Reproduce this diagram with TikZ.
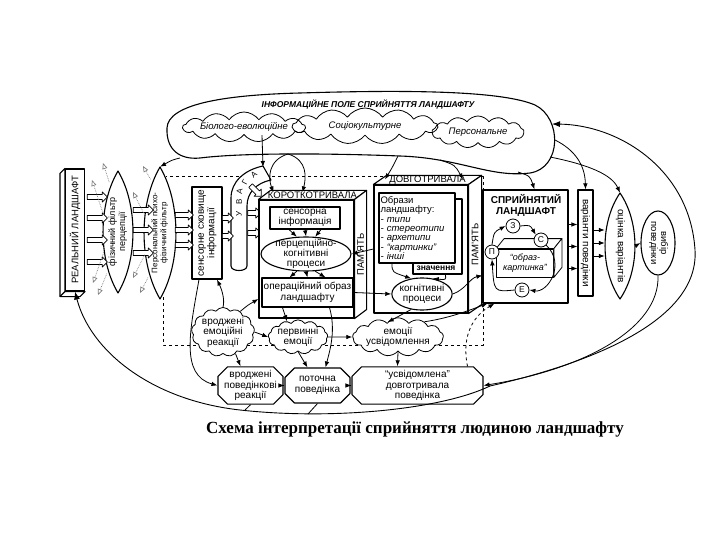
\documentclass[tikz,border=0pt]{standalone}
\usepackage{graphicx}
\usepackage{fontspec}
\setmainfont{Liberation Sans}
\newfontfamily\titlefont{Liberation Serif}
\usetikzlibrary{positioning, shapes.geometric, shapes.symbols, shapes.misc, shapes.arrows, arrows.meta, calc}

\newcommand{\vtxt}[1]{\rotatebox{90}{\begin{tabular}{@{}c@{}}#1\end{tabular}}}
\newcommand{\vtxtdown}[1]{\rotatebox{-90}{\begin{tabular}{@{}c@{}}#1\end{tabular}}}
\newcommand{\lenspath}[4]{\draw[boxline, fill=white] (#1,#2-#4) .. controls ({#1+#3*1.33},{#2-#4*0.45}) and ({#1+#3*1.33},{#2+#4*0.45}) .. (#1,#2+#4) .. controls ({#1-#3*1.33},{#2+#4*0.45}) and ({#1-#3*1.33},{#2-#4*0.45}) .. (#1,#2-#4) -- cycle;}

\tikzset{
  boxline/.style={line width=1.1pt},
  box/.style={draw, boxline, fill=white, align=center, inner sep=1pt},
  arr/.style={-{Latex[length=6pt,width=4.5pt]}, line width=0.8pt},
  fat/.style={single arrow, draw, fill=white, line width=0.7pt, minimum height=20pt, inner sep=2.2pt, single arrow head extend=2.5pt},
  ray/.style={densely dotted, gray, line width=0.7pt, -{Triangle[open,length=6pt,width=5pt]}},
  puff/.style={cloud, cloud puffs=13, cloud puff arc=110, cloud ignores aspect, draw, line width=0.8pt, align=center, inner sep=0pt},
  beh/.style={chamfered rectangle, chamfered rectangle xsep=6pt, draw, boxline, fill=white, align=center, inner sep=0pt, minimum height=35pt},
  circ/.style={circle, draw, line width=0.8pt, fill=white, inner sep=0pt, minimum size=14pt, font=\fontsize{8.5}{8.5}\selectfont},
  lensarea/.style={ellipse, inner sep=0pt},
  oval/.style={ellipse, draw, boxline, fill=white, align=center},
  memlabel/.style={font=\fontsize{9.5}{9.5}\selectfont, inner sep=0pt},
}

\begin{document}
\begin{tikzpicture}[x=1pt, y=-1pt, font=\fontsize{10}{10.5}\selectfont, line join=round]
\fill[white] (0,0) rectangle (720,540);
\useasboundingbox (0,0) rectangle (720,540);

% information field
\draw[boxline] (167,128) .. controls (168,105) and (220,95) .. (300,93) .. controls (400,90) and (500,90) .. (535,105) .. controls (562,118) and (562,168) .. (530,173) .. controls (490,178) and (460,158) .. (400,156) .. controls (320,153) and (240,153) .. (200,158) .. controls (180,160) and (166,150) .. (167,128) -- cycle;
\node[font=\fontsize{8.5}{9}\selectfont\bfseries\itshape] (fieldT) at (368,104) {ІНФОРМАЦІЙНЕ ПОЛЕ СПРИЙНЯТТЯ ЛАНДШАФТУ};
\node[puff, minimum width=114pt, minimum height=30pt, font=\fontsize{9.5}{10}\selectfont\itshape] (bio) at (244,127) {Біолого-еволюційне};
\node[puff, minimum width=145pt, minimum height=36pt, font=\fontsize{9.5}{10}\selectfont\itshape] (soc) at (365,126) {Соціокультурне};
\node[puff, minimum width=92pt, minimum height=32pt, font=\fontsize{9.5}{10}\selectfont\itshape] (persn) at (478,132) {Персональне};
\coordinate (fL) at (180,158);
\coordinate (fS) at (288,154);
\coordinate (fL1) at (398,156);
\coordinate (fL2) at (440,160);
\coordinate (fP) at (518,172);
\coordinate (fE1) at (552,124);
\coordinate (fE2) at (555,140);
\coordinate (fE3) at (550,157);

% dashed frame
\draw[dashed, line width=1pt] (163,297) -- (163,345) -- (483,345) -- (483,177) -- (166,177);

% real landscape
\node[box, minimum width=19pt, minimum height=122pt, font=\fontsize{9.5}{10}\selectfont] (land) at (75,230) {\rotatebox{90}{РЕАЛЬНИЙ ЛАНДШАФТ}};
\draw[boxline, fill=white] (land.north west) -- ++(-5,5) -- ($(land.south west)+(-5,5)$) -- ($(land.south east)+(-5,5)$) -- (land.south east) -- (land.south west) -- cycle;
\draw[boxline] (land.south west) -- ++(-5,5);

% filters
\lenspath{118}{232}{15}{61}
\node[lensarea, minimum width=30pt, minimum height=122pt, font=\fontsize{9}{10}\selectfont] (phys) at (118,232) {\vtxt{фізичний фільтр\\перцепції}};
\lenspath{160}{233}{16}{66}
\node[lensarea, minimum width=32pt, minimum height=132pt, font=\fontsize{8}{9}\selectfont] (pers) at (160,233) {\vtxt{Персональний психо-\\фізичний фільтр}};

% sensory store
\node[box, minimum width=30pt, minimum height=92pt] (store) at (207,233) {\vtxt{сенсорне сховище\\інформації}};

% attention band
\draw[boxline, fill=white] (231,266) -- (231,198) .. controls (231,182) and (244,170) .. (263,166) -- (271,180) .. controls (256,183) and (247,193) .. (247,206) -- (247,266) .. controls (247,272) and (231,272) .. (231,266) -- cycle;
\foreach \ch/\x/\y/\r [count=\i] in {У/239/214/90, В/239/202/90, А/239.5/191/82, Г/245/182/62, А/254/175/40}
  \node[rotate=\r, font=\fontsize{8}{8}\selectfont, inner sep=0pt] (u\i) at (\x,\y) {\ch};
\coordinate (uvtop) at (263,167);

% hollow arrows
\foreach \y [count=\i] in {197,218,240,262}
  \node[fat] (fa\i) at (96,\y) {};
\foreach \y [count=\i] in {210,230,253}
  \node[fat] (fb\i) at (142,\y) {};
\foreach \y [count=\i] in {215,230,245}
  \node[fat, minimum height=18pt] (fc\i) at (183,\y) {};
\foreach \y [count=\i] in {218,236}
  \node[fat, minimum height=11pt] (fd\i) at (226.5,\y) {};
\foreach \y [count=\i] in {213,233}
  \node[fat, minimum height=13pt] (fe\i) at (253,\y) {};
\node[fat, minimum height=15pt, rotate=-45] (fe3) at (255,190) {};

% filtered-out rays
\foreach \a/\x/\y [count=\i] in {100/103/163, 130/92/180, 235/93/283, 255/98/295}
  {\coordinate (rp\i) at (\x,\y); \draw[ray] (phys.\a) -- (rp\i);}
\foreach \a/\x/\y [count=\i] in {100/143/166, 130/133/192, 235/133/278, 255/140/293}
  {\coordinate (rq\i) at (\x,\y); \draw[ray] (pers.\a) -- (rq\i);}

% short-term memory
\node[draw, boxline, fill=white, minimum width=95pt, minimum height=118pt] (stm) at (306.5,259) {};
\draw[boxline, fill=white] (stm.north west) -- ++(12,-9) -- ($(stm.north east)+(12,-9)$) -- (stm.north east) -- cycle;
\draw[boxline, fill=white] (stm.north east) -- ++(12,-9) -- ($(stm.south east)+(12,-9)$) -- (stm.south east) -- cycle;
\node[memlabel] (stmT) at ($(stm.north)+(6,-4.5)$) {КОРОТКОТРИВАЛА};
\node[memlabel] (stmS) at ($(stm.east)+(6,-4.5)$) {\rotatebox{90}{ПАМ'ЯТЬ}};
\node[box, minimum width=70pt, minimum height=22pt, font=\fontsize{10}{10}\selectfont] (sens) at (305,218) {сенсорна\\інформація};
\node[oval, minimum width=90pt, minimum height=34pt, inner xsep=-2pt, inner ysep=-7pt, font=\fontsize{10}{10}\selectfont] (pcog) at (306,254) {перцепційно-\\когнітивні\\процеси};
\node[box, minimum width=91pt, minimum height=29pt, font=\fontsize{10}{11}\selectfont] (op) at (307.5,292.5) {операційний образ\\ландшафту};
\foreach \dx/\a in {-16/118, 0/90, 16/62}
  \draw[arr] ([xshift=\dx pt]sens.south) -- (pcog.\a);
\foreach \dx/\a in {-18/242, 0/270, 18/298}
  \draw[arr] (pcog.\a) -- ([xshift=\dx pt]op.north);

% long-term memory
\node[draw, boxline, fill=white, minimum width=94pt, minimum height=128pt] (ltm) at (421,249) {};
\draw[boxline, fill=white] (ltm.north west) -- ++(13,-9) -- ($(ltm.north east)+(13,-9)$) -- (ltm.north east) -- cycle;
\draw[boxline, fill=white] (ltm.north east) -- ++(13,-9) -- ($(ltm.south east)+(13,-9)$) -- (ltm.south east) -- cycle;
\node[memlabel] (ltmT) at ($(ltm.north)+(6.5,-4.5)$) {ДОВГОТРИВАЛА};
\node[memlabel] (ltmS) at ($(ltm.east)+(6.5,-4.5)$) {\rotatebox{90}{ПАМ'ЯТЬ}};
\node[draw, boxline, fill=white, minimum width=49pt, minimum height=75pt] (meaning) at (437.5,236.5) {};
\node[font=\fontsize{8.5}{9}\selectfont\bfseries, inner sep=0pt] (meanT) at (436,268.5) {значення};
\node[box, align=left, minimum width=76pt, minimum height=70pt, text width=73pt, font=\fontsize{9.5}{9.4}\selectfont] (images) at (417,228) {Образи\\ландшафту:\\\textit{- типи}\\\textit{- стереотипи}\\\textit{- архетипи}\\\textit{- ``картинки''}\\\textit{- інші}};
\node[oval, minimum width=60pt, minimum height=32pt, inner xsep=-1pt, inner ysep=-3pt] (cog) at (422,294) {когнітивні\\процеси};
\draw[arr] ([xshift=-25pt]images.south) .. controls (392,272) .. (cog.125);
\draw[arr] ([xshift=8pt]meaning.south) .. controls (446,280) .. (cog.55);
\draw[arr] (op.east) -- (cog.west);
\draw[arr] (ltm.west) -- (pcog.east);

% perceived landscape
\node[draw, boxline, fill=white, minimum width=85pt, minimum height=113pt] (seen) at (525.5,246.5) {};
\node[font=\fontsize{10}{11}\selectfont\bfseries, align=center] (seenT) at (526,205) {СПРИЙНЯТИЙ\\ЛАНДШАФТ};
\node[draw, line width=0.8pt, fill=white, minimum width=57pt, minimum height=28pt, align=center, font=\fontsize{9}{10}\selectfont\itshape] (img) at (525,263) {``образ-\\картинка''};
\draw[line width=0.8pt, fill=white] (img.north west) -- ++(8,-10) -- ($(img.north east)+(8,-10)$) -- (img.north east) -- cycle;
\draw[line width=0.8pt, fill=white] (img.north east) -- ++(8,-10) -- ($(img.south east)+(8,-10)$) -- (img.south east) -- cycle;
\node[circ] (cz) at (513,226) {З};
\node[circ] (cs) at (541,240) {С};
\node[circ] (cp) at (492,252) {П};
\node[circ] (ce) at (522,290) {Е};
\draw[arr] (cz.east) .. controls (530,225) .. (cs.north west);
\draw[arr] (cs.south east) .. controls (566,264) and (548,293) .. (ce.east);
\draw[arr] (ce.west) .. controls (494,292) .. (cp.south);
\draw[arr] (cp.north) .. controls (494,232) .. (cz.west);

% behaviour variants, evaluation, choice
\node[box, minimum width=15pt, minimum height=106pt] (var) at (585.5,243) {\rotatebox{-90}{варіанти поведінки}};
\lenspath{620}{246}{15}{53}
\node[lensarea, minimum width=30pt, minimum height=106pt] (evalv) at (620,246) {\vtxtdown{оцінка варіантів}};
\node[oval, minimum width=34pt, minimum height=64pt, inner sep=-2pt, font=\fontsize{9.5}{10}\selectfont] (choice) at (658,243) {\vtxtdown{вибір\\поведінки}};
\foreach \dy in {22,0,-22}
  \draw[arr] ([yshift=\dy pt]seen.east) -- ([yshift=\dy pt]seen.east -| var.west);
\foreach \dy in {13,0,-13}
  \draw[arr] ([yshift=\dy pt]var.east) -- ([yshift=\dy pt]var.east -| evalv.west);
\draw[arr] (evalv.east) -- (choice.west);

% emotions
\node[puff, minimum width=58pt, minimum height=42pt, fill=white] (innemo) at (223,332) {вроджені\\емоційні\\реакції};
\node[puff, minimum width=56pt, minimum height=32pt, fill=white] (primemo) at (298,337) {первинні\\емоції};
\node[puff, minimum width=84pt, minimum height=33pt, fill=white] (consemo) at (398,337) {емоції\\усвідомлення};

% behaviour
\node[beh, minimum width=65pt] (innbeh) at (250.5,385.5) {вроджені\\поведінкові\\реакції};
\node[beh, minimum width=65pt] (curbeh) at (317.5,385.5) {поточна\\поведінка};
\node[beh, minimum width=131pt] (consbeh) at (417.5,385.5) {``усвідомлена''\\довготривала\\поведінка};
\draw[arr] (innbeh.east) -- (curbeh.west);
\draw[arr] (curbeh.east) -- (consbeh.west);

% connectors from the field
\draw[arr] (fL) .. controls (172,160) .. (pers.north);
\draw[arr] ([xshift=18pt]bio.south) -- (uvtop);
\draw[arr] (fS) .. controls (268,160) and (268,178) .. ([xshift=-33pt,yshift=7pt]stm.north);
\draw[arr] (fS) .. controls (308,160) and (306,178) .. ([xshift=-4pt,yshift=7pt]stm.north);
\draw[arr] (fL1) .. controls (392,168) .. ([xshift=-36pt,yshift=5pt]ltm.north);
\draw[arr] (fL2) .. controls (455,165) .. ([xshift=42pt,yshift=5pt]ltm.north);
\draw[arr] (fP) .. controls (530,176) .. ([xshift=9pt]seen.north);
\draw[arr] (fE2) .. controls (575,150) and (585,165) .. (var.north);
\draw[arr] (fE3) .. controls (590,165) and (612,175) .. (evalv.north);

% lower connectors
\draw[arr] ([xshift=-8pt]store.south) .. controls (190,330) and (180,375) .. (innbeh.west);
\draw[arr] (innemo.north) .. controls (225,300) and (222,290) .. ([xshift=10pt]store.south);
\draw[arr] (innemo.50) .. controls (248,305) .. ([yshift=-40pt]stm.west);
\draw[arr] ([xshift=-25pt]op.south) -- (primemo.125);
\draw[arr] ([xshift=22pt]op.south) .. controls (336,330) and (330,350) .. ([xshift=8pt]curbeh.north);
\draw[arr] (innemo.east) -- (primemo.west);
\draw[arr] (innemo.300) -- ([xshift=-10pt]innbeh.north);
\draw[arr] (primemo.south) -- ([xshift=-10pt]curbeh.north);
\draw[arr] (primemo.east) -- (consemo.west);
\draw[arr] (cog.235) -- (consemo.125);
\draw[arr] (consemo.south) -- ([xshift=-20pt]consbeh.north);
\draw[arr] (consemo.30) .. controls (450,318) and (470,310) .. ([xshift=5pt]seen.south west);
\draw[arr] (cog.east) .. controls (465,290) and (470,278) .. ([yshift=-29pt]seen.west);
\draw[arr, dashed] ([xshift=50pt]consbeh.north) .. controls (462,340) and (470,318) .. ([xshift=12pt]seen.south west);

% big feedback loops
\coordinate (j1) at (245,410);
\coordinate (j2) at (308,414);
\draw[line width=0.9pt, {Latex[length=8pt,width=6pt]}-{Latex[length=8pt,width=6pt]}] (land.south) .. controls (90,350) and (150,400) .. (240,410) .. controls (330,420) and (440,410) .. (490,386) .. controls (560,370) and (700,330) .. (695,250) .. controls (690,170) and (620,125) .. (fE1);
\draw[arr] (choice.south) .. controls (660,330) and (580,370) .. (consbeh.east);
\draw[line width=0.8pt] (innbeh.south) -- (j1);
\draw[line width=0.8pt] (curbeh.south) -- (j2);

% caption
\node[font=\titlefont\bfseries\fontsize{17}{20}\selectfont] (title) at (415,429) {Схема інтерпретації сприйняття людиною ландшафту};
\end{tikzpicture}
\end{document}
